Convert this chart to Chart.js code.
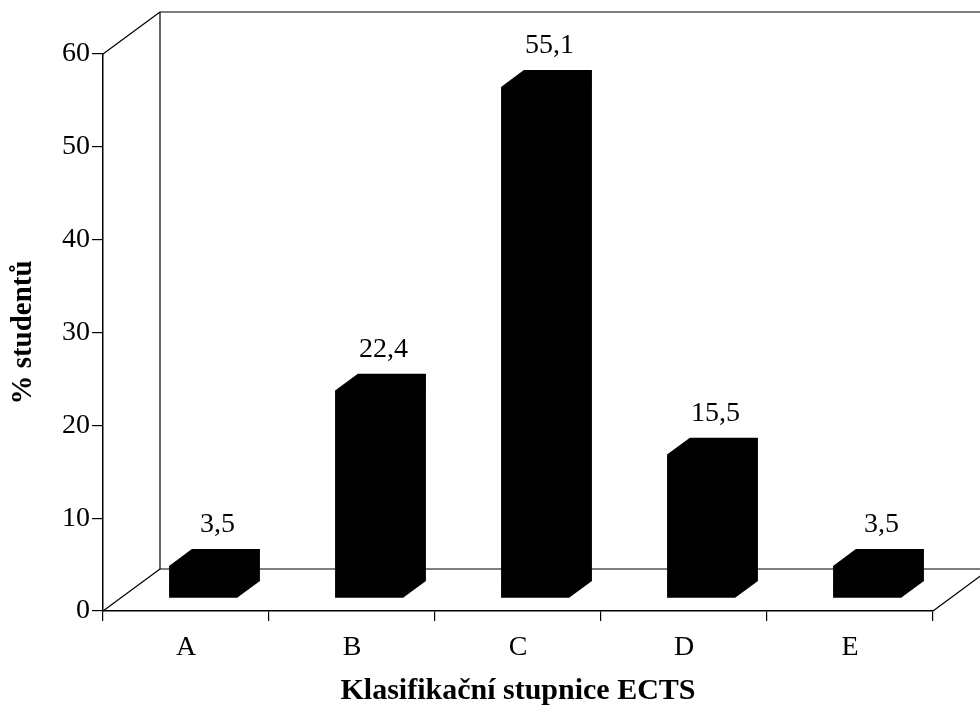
<!DOCTYPE html>
<html lang="cs">
<head>
<meta charset="utf-8">
<title>Klasifikační stupnice ECTS</title>
<script src="https://cdn.jsdelivr.net/npm/chart.js@4.4.1/dist/chart.umd.min.js"></script>
<style>
  html, body { margin: 0; padding: 0; background: #ffffff; }
  #wrap { width: 980px; height: 710px; }
  canvas { display: block; }
</style>
</head>
<body>
<div id="wrap"><canvas id="chart" width="980" height="710"></canvas></div>
<script>
// Grades on the ECTS scale and share of students in each (%)
const categories = ['A', 'B', 'C', 'D', 'E'];
const percentages = [3.5, 22.4, 55.1, 15.5, 3.5];
const yTicks = [0, 10, 20, 30, 40, 50, 60];

const FONT = "'Liberation Serif', 'Times New Roman', serif";
const INK = '#000000';

// Depth of the 3D box (back wall offset) in pixels
const DEPTH = { x: 57, y: -42 };
// Bars occupy the middle 40 % of the depth
const BAR_FRONT = 0.3;
const BAR_DEPTH = 0.4;

const frame3d = {
  id: 'frame3d',
  beforeDatasetsDraw(chart) {
    const { ctx, chartArea: a, scales } = chart;
    const top = scales.y.getPixelForValue(yTicks[yTicks.length - 1]);
    const bottom = scales.y.getPixelForValue(0);
    const bx = DEPTH.x, by = DEPTH.y;
    ctx.save();
    ctx.strokeStyle = INK;
    ctx.lineWidth = 1.2;
    ctx.beginPath();
    // side edges of the box
    ctx.moveTo(a.left, top); ctx.lineTo(a.left + bx, top + by);
    ctx.moveTo(a.left, bottom); ctx.lineTo(a.left + bx, bottom + by);
    ctx.moveTo(a.right, bottom); ctx.lineTo(a.right + bx, bottom + by);
    // back wall
    ctx.moveTo(a.left + bx, top + by); ctx.lineTo(a.left + bx, bottom + by);
    ctx.moveTo(a.left + bx, top + by); ctx.lineTo(a.right + bx, top + by);
    ctx.lineTo(a.right + bx, bottom + by);
    ctx.moveTo(a.left + bx, bottom + by); ctx.lineTo(a.right + bx, bottom + by);
    ctx.stroke();
    ctx.restore();
  },
  beforeDatasetDraw(chart, args) {
    const { ctx } = chart;
    const meta = args.meta;
    const fx = DEPTH.x * BAR_FRONT, fy = DEPTH.y * BAR_FRONT;
    const dx = DEPTH.x * BAR_DEPTH, dy = DEPTH.y * BAR_DEPTH;
    const values = chart.data.datasets[args.index].data;
    ctx.save();
    meta.data.forEach((el, i) => {
      const p = el.getProps(['x', 'y', 'base', 'width'], true);
      const L = p.x - p.width / 2 + fx;
      const R = p.x + p.width / 2 + fx;
      const T = p.y + fy;
      const B = p.base + fy;
      ctx.fillStyle = INK;
      ctx.beginPath();
      ctx.moveTo(L, B);
      ctx.lineTo(L, T);
      ctx.lineTo(L + dx, T + dy);
      ctx.lineTo(R + dx, T + dy);
      ctx.lineTo(R + dx, B + dy);
      ctx.lineTo(R, B);
      ctx.closePath();
      ctx.fill();
      // value label above the bar
      ctx.font = `28px ${FONT}`;
      ctx.textAlign = 'center';
      ctx.textBaseline = 'alphabetic';
      ctx.fillText(String(values[i]).replace('.', ','), (L + R + dx) / 2 + 3, T + dy - 17);
    });
    ctx.restore();
    return false;
  }
};

new Chart(document.getElementById('chart'), {
  type: 'bar',
  data: {
    labels: categories,
    datasets: [{
      label: '% studentů',
      data: percentages,
      backgroundColor: INK,
      categoryPercentage: 1,
      barPercentage: 0.41
    }]
  },
  options: {
    responsive: false,
    animation: false,
    devicePixelRatio: 1,
    layout: { padding: { left: 0, right: 47, top: 54, bottom: 0 } },
    plugins: {
      legend: { display: false },
      tooltip: { enabled: false }
    },
    scales: {
      x: {
        grid: { drawOnChartArea: false, offset: true, tickLength: 10, color: INK, lineWidth: 1.2 },
        border: { color: INK, width: 1.5 },
        ticks: { color: INK, font: { family: FONT, size: 28 }, padding: 10 },
        title: {
          display: true,
          text: 'Klasifikační stupnice ECTS',
          color: INK,
          font: { family: FONT, size: 30, weight: 'bold' },
          padding: { top: 0, bottom: 1 }
        },
        afterFit(scale) { scale.height = 99; }
      },
      y: {
        min: 0,
        max: 60,
        afterBuildTicks(scale) { scale.ticks = yTicks.map(v => ({ value: v })); },
        grid: { drawOnChartArea: false, tickLength: 11, color: INK, lineWidth: 1.2 },
        border: { color: INK, width: 1.5 },
        ticks: { color: INK, font: { family: FONT, size: 28 }, padding: 2 },
        title: {
          display: true,
          text: '% studentů',
          color: INK,
          font: { family: FONT, size: 29, weight: 'bold' },
          padding: { top: 6, bottom: 0 }
        },
        afterFit(scale) { scale.width = 103; }
      }
    }
  },
  plugins: [frame3d]
});
</script>
</body>
</html>
